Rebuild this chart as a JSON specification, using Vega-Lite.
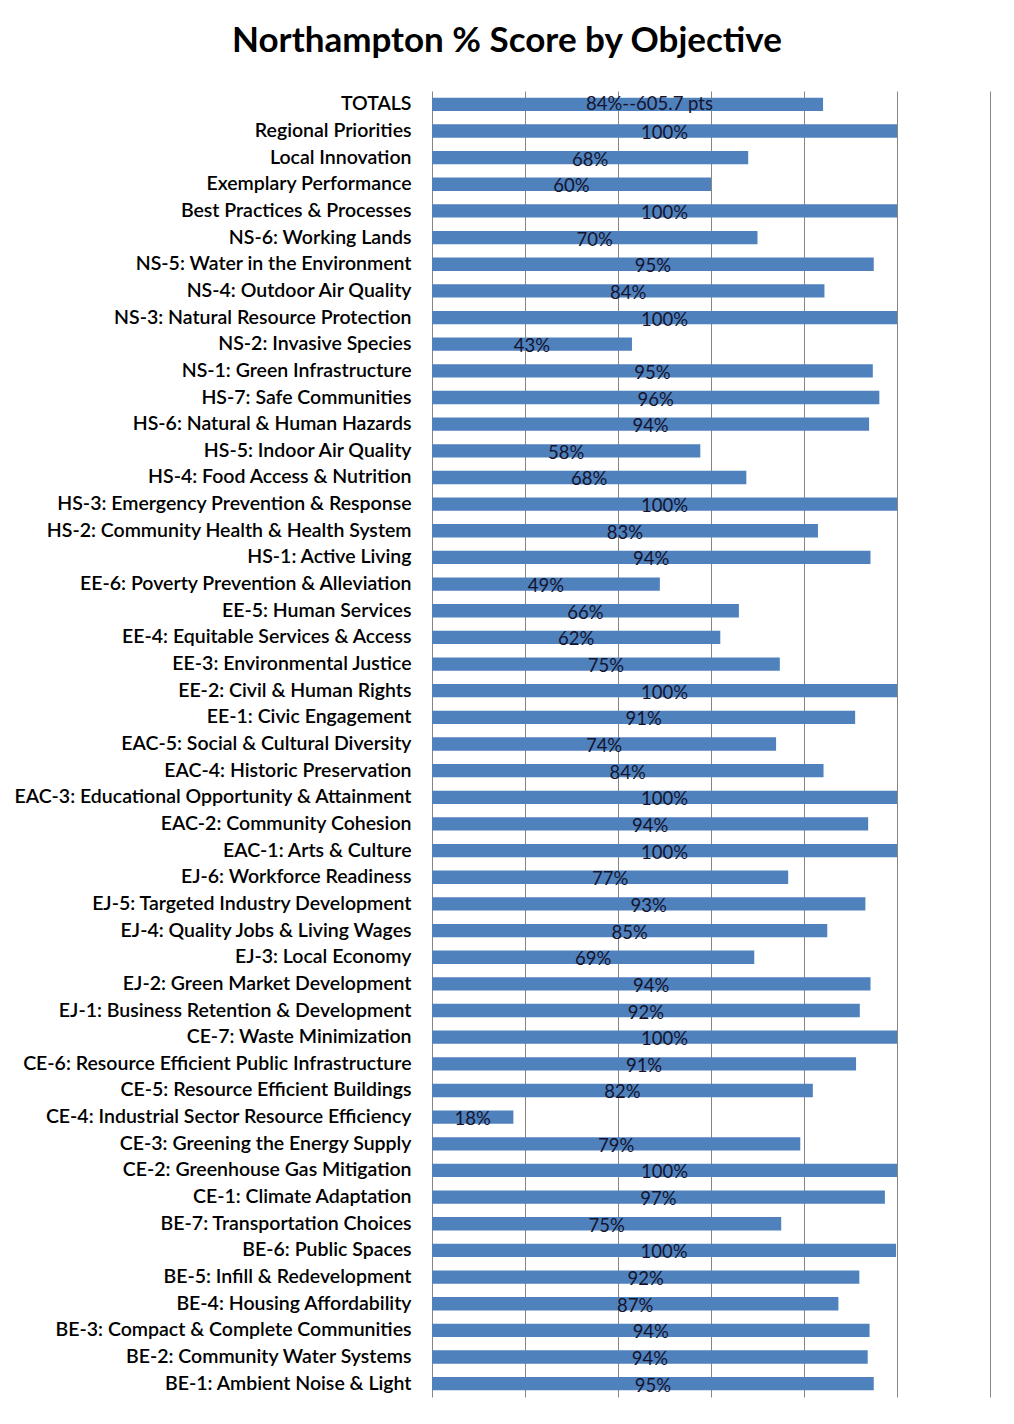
{
  "$schema": "https://vega.github.io/schema/vega-lite/v6.json",
  "autosize": "none",
  "width": 558,
  "height": 1306,
  "padding": {"left": 432, "top": 91, "right": 24, "bottom": 27},
  "background": "white",
  "title": {
    "text": "Northampton % Score by Objective",
    "font": "Lato",
    "fontSize": 35,
    "fontWeight": "bold",
    "color": "black",
    "anchor": "middle",
    "dx": -204,
    "baseline": "alphabetic",
    "offset": 4
  },
  "data": {
    "values": [
      {"name": "TOTALS", "value": 84.1, "label": "84%--605.7 pts"},
      {"name": "Regional Priorities", "value": 100, "label": "100%"},
      {"name": "Local Innovation", "value": 68, "label": "68%"},
      {"name": "Exemplary Performance", "value": 60, "label": "60%"},
      {"name": "Best Practices & Processes", "value": 100, "label": "100%"},
      {"name": "NS-6: Working Lands", "value": 70, "label": "70%"},
      {"name": "NS-5: Water in the Environment", "value": 95, "label": "95%"},
      {"name": "NS-4: Outdoor Air Quality", "value": 84.4, "label": "84%"},
      {"name": "NS-3: Natural Resource Protection", "value": 100, "label": "100%"},
      {"name": "NS-2: Invasive Species", "value": 43, "label": "43%"},
      {"name": "NS-1: Green Infrastructure", "value": 94.8, "label": "95%"},
      {"name": "HS-7: Safe Communities", "value": 96.2, "label": "96%"},
      {"name": "HS-6: Natural & Human Hazards", "value": 94, "label": "94%"},
      {"name": "HS-5: Indoor Air Quality", "value": 57.7, "label": "58%"},
      {"name": "HS-4: Food Access & Nutrition", "value": 67.6, "label": "68%"},
      {"name": "HS-3: Emergency Prevention & Response", "value": 100, "label": "100%"},
      {"name": "HS-2: Community Health & Health System", "value": 83, "label": "83%"},
      {"name": "HS-1: Active Living", "value": 94.3, "label": "94%"},
      {"name": "EE-6: Poverty Prevention & Alleviation", "value": 49, "label": "49%"},
      {"name": "EE-5: Human Services", "value": 66, "label": "66%"},
      {"name": "EE-4: Equitable Services & Access", "value": 62, "label": "62%"},
      {"name": "EE-3: Environmental Justice", "value": 74.8, "label": "75%"},
      {"name": "EE-2: Civil & Human Rights", "value": 100, "label": "100%"},
      {"name": "EE-1: Civic Engagement", "value": 91, "label": "91%"},
      {"name": "EAC-5: Social & Cultural Diversity", "value": 74, "label": "74%"},
      {"name": "EAC-4: Historic Preservation", "value": 84.2, "label": "84%"},
      {"name": "EAC-3: Educational Opportunity & Attainment", "value": 100, "label": "100%"},
      {"name": "EAC-2: Community Cohesion", "value": 93.8, "label": "94%"},
      {"name": "EAC-1: Arts & Culture", "value": 100, "label": "100%"},
      {"name": "EJ-6: Workforce Readiness", "value": 76.6, "label": "77%"},
      {"name": "EJ-5: Targeted Industry Development", "value": 93.2, "label": "93%"},
      {"name": "EJ-4: Quality Jobs & Living Wages", "value": 85, "label": "85%"},
      {"name": "EJ-3: Local Economy", "value": 69.3, "label": "69%"},
      {"name": "EJ-2: Green Market Development", "value": 94.3, "label": "94%"},
      {"name": "EJ-1: Business Retention & Development", "value": 92, "label": "92%"},
      {"name": "CE-7: Waste Minimization", "value": 100, "label": "100%"},
      {"name": "CE-6: Resource Efficient Public Infrastructure", "value": 91.2, "label": "91%"},
      {"name": "CE-5: Resource Efficient Buildings", "value": 81.9, "label": "82%"},
      {"name": "CE-4: Industrial Sector Resource Efficiency", "value": 17.5, "label": "18%"},
      {"name": "CE-3: Greening the Energy Supply", "value": 79.2, "label": "79%"},
      {"name": "CE-2: Greenhouse Gas Mitigation", "value": 100, "label": "100%"},
      {"name": "CE-1: Climate Adaptation", "value": 97.4, "label": "97%"},
      {"name": "BE-7: Transportation Choices", "value": 75.1, "label": "75%"},
      {"name": "BE-6: Public Spaces", "value": 99.8, "label": "100%"},
      {"name": "BE-5: Infill & Redevelopment", "value": 91.9, "label": "92%"},
      {"name": "BE-4: Housing Affordability", "value": 87.4, "label": "87%"},
      {"name": "BE-3: Compact & Complete Communities", "value": 94.1, "label": "94%"},
      {"name": "BE-2: Community Water Systems", "value": 93.7, "label": "94%"},
      {"name": "BE-1: Ambient Noise & Light", "value": 95, "label": "95%"}
    ]
  },
  "encoding": {
    "y": {
      "field": "name",
      "type": "nominal",
      "sort": null,
      "scale": {"paddingInner": 0.5, "paddingOuter": 0.25},
      "axis": {
        "title": null,
        "ticks": false,
        "domain": false,
        "labelFont": "Lato",
        "labelFontSize": 19.5,
        "labelFontWeight": 600,
        "labelColor": "black",
        "labelPadding": 21,
        "labelLimit": 500
      }
    }
  },
  "layer": [
    {
      "mark": {"type": "bar", "color": "#4F81BD"},
      "encoding": {
        "x": {
          "field": "value",
          "type": "quantitative",
          "scale": {"domain": [0, 120], "nice": false},
          "axis": {
            "title": null,
            "labels": false,
            "ticks": false,
            "domain": false,
            "grid": true,
            "gridColor": "#868686",
            "gridWidth": 1,
            "values": [0, 20, 40, 60, 80, 100, 120]
          }
        }
      }
    },
    {
      "transform": [{"filter": "datum.name !== 'TOTALS'"}],
      "mark": {"type": "text", "font": "Lato", "fontSize": 18.5, "color": "#14142e", "align": "center", "baseline": "middle", "dy": 2},
      "encoding": {
        "x": {
          "field": "value",
          "type": "quantitative",
          "scale": {"domain": [0, 240], "nice": false},
          "axis": null
        },
        "text": {"field": "label"}
      }
    },
    {
      "transform": [{"filter": "datum.name === 'TOTALS'"}],
      "mark": {"type": "text", "font": "Lato", "fontSize": 18.5, "color": "#14142e", "align": "center", "baseline": "middle", "dy": 0, "dx": 22},
      "encoding": {
        "x": {
          "field": "value",
          "type": "quantitative",
          "scale": {"domain": [0, 240], "nice": false},
          "axis": null
        },
        "text": {"field": "label"}
      }
    }
  ],
  "resolve": {"scale": {"x": "independent"}},
  "config": {
    "view": {"stroke": null}
  }
}
